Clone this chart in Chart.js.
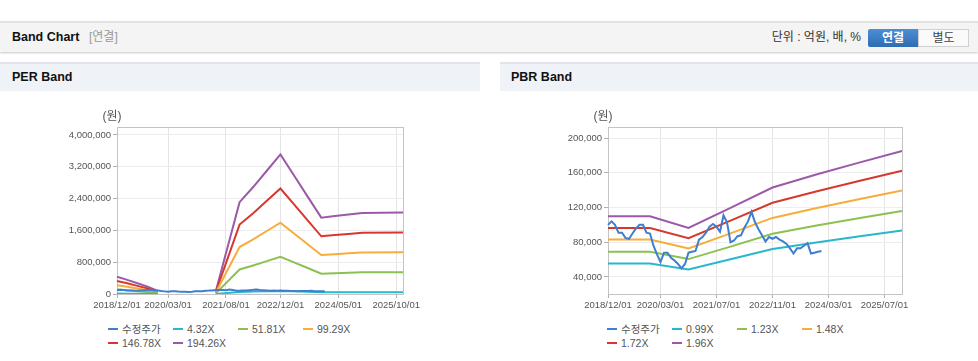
<!DOCTYPE html>
<html lang="ko">
<head>
<meta charset="utf-8">
<title>Band Chart</title>
<script src="https://cdn.jsdelivr.net/npm/chart.js@4.4.0/dist/chart.umd.min.js"></script>
<style>
  body { margin: 0; width: 978px; height: 361px; position: relative; overflow: hidden; background: #fff;
         font-family: 'Liberation Sans', Arial, 'Noto Sans CJK KR', sans-serif; color: #222; }
  .topbar { position: absolute; left: 0; top: 21px; width: 978px; height: 29px; background: #f4f4f4;
            border-top: 2px solid #e2e2e2; box-shadow: 0 1px 2px rgba(0,0,0,0.22); }
  .topbar .ttl { position: absolute; left: 12px; top: 0; line-height: 29px; font-size: 12.5px; font-weight: bold; color: #111; }
  .topbar .sub { position: absolute; left: 89px; top: 0; line-height: 29px; font-size: 12px; color: #999; }
  .topbar .unit { position: absolute; right: 117px; top: 0; line-height: 29px; font-size: 12px; color: #333; }
  .btn { position: absolute; top: 6px; height: 18px; line-height: 18px; width: 50px; text-align: center; font-size: 12px; }
  .btn.on { left: 868px; background: linear-gradient(#4c8fd5, #2e6cb3); color: #fff; font-weight: bold; border-radius: 2px 0 0 2px; }
  .btn.off { left: 918px; width: 49px; height: 16px; line-height: 16px; background: #fafafa; border: 1px solid #d0d0d0; color: #444; }
  .ph { position: absolute; top: 62px; height: 27px; background: #eff2f7; border-top: 2px solid #e1e5eb;
        line-height: 27px; font-size: 12.5px; font-weight: bold; color: #111; }
  canvas { position: absolute; top: 100px; }
  .legend { position: absolute; display: flex; flex-wrap: wrap; width: 260px; }
  .legend .it { width: 65px; height: 14px; line-height: 14px; font-size: 10.5px; color: #555; white-space: nowrap; }
  .legend .mk { display: inline-block; width: 10px; height: 2px; vertical-align: middle; margin-right: 4px; position: relative; top: -1px; }
</style>
</head>
<body>
<div class="topbar">
  <span class="ttl">Band Chart</span><span class="sub">[연결]</span>
  <span class="unit">단위 : 억원, 배, %</span>
  <span class="btn on">연결</span><span class="btn off">별도</span>
</div>
<div class="ph" style="left:0;width:468px;padding-left:12px;">PER Band</div>
<div class="ph" style="left:500px;width:467px;padding-left:11px;">PBR Band</div>

<canvas id="perChart" width="480" height="215" style="left:0"></canvas>
<canvas id="pbrChart" width="478" height="215" style="left:500px"></canvas>
<div class="legend" id="perLegend" style="left:108px;top:322px"></div>
<div class="legend" id="pbrLegend" style="left:607px;top:322px"></div>

<script>
// 월별 카테고리 (2018/12 ~ 2025/12)
const months = [
  '2018/12/01',
  '2019/01/01','2019/02/01','2019/03/01','2019/04/01','2019/05/01','2019/06/01','2019/07/01','2019/08/01','2019/09/01','2019/10/01','2019/11/01','2019/12/01',
  '2020/01/01','2020/02/01','2020/03/01','2020/04/01','2020/05/01','2020/06/01','2020/07/01','2020/08/01','2020/09/01','2020/10/01','2020/11/01','2020/12/01',
  '2021/01/01','2021/02/01','2021/03/01','2021/04/01','2021/05/01','2021/06/01','2021/07/01','2021/08/01','2021/09/01','2021/10/01','2021/11/01','2021/12/01',
  '2022/01/01','2022/02/01','2022/03/01','2022/04/01','2022/05/01','2022/06/01','2022/07/01','2022/08/01','2022/09/01','2022/10/01','2022/11/01','2022/12/01',
  '2023/01/01','2023/02/01','2023/03/01','2023/04/01','2023/05/01','2023/06/01','2023/07/01','2023/08/01','2023/09/01','2023/10/01','2023/11/01','2023/12/01',
  '2024/01/01','2024/02/01','2024/03/01','2024/04/01','2024/05/01','2024/06/01','2024/07/01','2024/08/01','2024/09/01','2024/10/01','2024/11/01','2024/12/01',
  '2025/01/01','2025/02/01','2025/03/01','2025/04/01','2025/05/01','2025/06/01','2025/07/01','2025/08/01','2025/09/01','2025/10/01','2025/11/01','2025/12/01'
];

const perXTicks = ['2018/12/01','2020/03/01','2021/08/01','2022/12/01','2024/05/01','2025/10/01'];
const pbrXTicks = ['2018/12/01','2020/03/01','2021/07/01','2022/11/01','2024/03/01','2025/07/01'];
const perYTicks = [0, 800000, 1600000, 2400000, 3200000, 4000000];
const pbrYTicks = [40000, 80000, 120000, 160000, 200000];

// 수정주가 (월별, 2018/12 ~ 2024/01)
const price = [
  100000, 104000, 100000, 91000, 91000, 85000, 84000, 90000, 96000, 100000, 100000, 91000, 90000,
  76000, 66000, 57000, 68000, 68000, 62000, 59000, 55000, 50000, 55000, 68000, 69000,
  70000, 83000, 86000, 91000, 98000, 101000, 98000, 92000, 111000, 103000, 80000, 82000,
  87000, 88000, 97000, 104000, 115000, 103000, 95000, 88000, 81000, 86000, 84000, 86000,
  83000, 81000, 78000, 73000, 67000, 73000, 73000, 76000, 79000, 67000, 68000, 69000, 70000
];

// PER 밴드
const perNames = ['수정주가', '4.32X', '51.81X', '99.29X', '146.78X', '194.26X'];
const perBandMonths = ['2018/12/01','2019/03/01','2019/06/01','2019/09/01','2019/12/01','2020/01/01','2021/05/01','2021/12/01',
  '2022/04/01','2022/08/01','2022/12/01','2023/04/01','2023/08/01','2023/12/01','2024/04/01','2024/08/01','2024/12/01','2025/12/01'];
const per1 = [9700, 7900, 6000, 4100, 1800, null, 1300, 51400, 59800, 68900, 78100, 66300, 54500, 42700, 43600, 44500, 45400, 45600];
const per2 = [116000, 94700, 72000, 49300, 21300, null, 16000, 616100, 717400, 826800, 936100, 794800, 653400, 512100, 522700, 533400, 544100, 546700];
const per3 = [222300, 181400, 138000, 94600, 40900, null, 30700, 1180600, 1374900, 1584400, 1794000, 1523100, 1252200, 981300, 1001800, 1022200, 1042600, 1047800];
const per4 = [328700, 268200, 204000, 139800, 60400, null, 45300, 1745400, 2032600, 2342400, 2652200, 2251700, 1851200, 1450800, 1481000, 1511200, 1541400, 1549000];
const per5 = [435000, 355000, 270000, 185000, 80000, null, 60000, 2310000, 2690000, 3100000, 3510000, 2980000, 2450000, 1920000, 1960000, 2000000, 2040000, 2050000];

// PBR 밴드
const pbrNames = ['수정주가', '0.99X', '1.23X', '1.48X', '1.72X', '1.96X'];
const pbrBandMonths = ['2018/12/01','2019/12/01','2020/11/01','2021/11/01','2022/11/01','2023/12/01','2024/12/01','2025/12/01'];
const pbr1 = [55600, 55600, 48700, 60400, 72200, 80100, 86900, 93400];
const pbr2 = [69000, 69000, 60600, 75000, 89700, 99500, 107900, 116100];
const pbr3 = [83100, 83100, 72900, 90200, 108000, 119700, 129900, 139700];
const pbr4 = [96500, 96500, 84700, 104900, 125500, 139100, 150900, 162400];
const pbr5 = [110000, 110000, 96500, 119500, 143000, 158500, 172000, 185000];

const colors = ['#3f7fcf', '#27b8cc', '#8cc152', '#f5ad3b', '#d7382e', '#9c59a8'];
const tickFont = { family: "'Liberation Sans Narrow', 'Liberation Sans', Arial, sans-serif", size: 9.5 };

const framePlugin = {
  id: 'frame',
  beforeDatasetsDraw(chart) {
    const { ctx, chartArea: a } = chart;
    ctx.save();
    ctx.strokeStyle = '#c4c4c4';
    ctx.lineWidth = 1;
    ctx.strokeRect(Math.round(a.left) + 0.5, Math.round(a.top) + 0.5, Math.round(a.right - a.left), Math.round(a.bottom - a.top));
    ctx.restore();
  },
  afterDraw(chart) {
    const { ctx, chartArea: a } = chart;
    ctx.save();
    ctx.fillStyle = '#555';
    ctx.font = "12px 'Liberation Sans', 'Noto Sans CJK KR', sans-serif";
    ctx.textAlign = 'center';
    ctx.textBaseline = 'middle';
    ctx.fillText('(원)', a.left - 5, a.top - 10);
    ctx.restore();
  }
};

function bandData(bandMonths, values) {
  return bandMonths.map((m, k) => ({ x: m, y: values[k] }));
}

function makeChart(id, names, bands, bandMonths, xTicks, yTicks, yMin, yMax, yWidth, padRight) {
  const datasets = [{ label: names[0], data: price, borderColor: colors[0] }];
  bands.forEach((b, k) => {
    datasets.push({ label: names[k + 1], data: bandData(bandMonths, b), borderColor: colors[k + 1] });
  });
  datasets.forEach(d => { d.borderWidth = 2; d.pointRadius = 0; d.tension = 0; d.fill = false; d.spanGaps = false; });

  return new Chart(document.getElementById(id), {
    type: 'line',
    data: { labels: months, datasets: datasets },
    options: {
      responsive: false,
      animation: false,
      layout: { padding: { left: 0, right: padRight, top: 27, bottom: 0 } },
      plugins: { legend: { display: false }, tooltip: { enabled: false } },
      scales: {
        x: {
          type: 'category',
          offset: false,
          grid: { color: '#e4e4e4', tickColor: '#b0b0b0', tickLength: 4 },
          border: { color: '#b8b8b8' },
          ticks: { autoSkip: false, maxRotation: 0, minRotation: 0, padding: 2, color: '#555', font: tickFont },
          afterBuildTicks: s => { s.ticks = xTicks.map(l => ({ value: months.indexOf(l) })); },
          afterFit: s => { s.height = 21; }
        },
        y: {
          min: yMin,
          max: yMax,
          grid: { color: '#ededed', tickColor: '#b0b0b0', tickLength: 4 },
          border: { color: '#b8b8b8' },
          ticks: { padding: 2, color: '#555', font: tickFont, callback: v => v.toLocaleString('en-US') },
          afterBuildTicks: s => { s.ticks = yTicks.map(v => ({ value: v })); },
          afterFit: s => { s.width = yWidth; }
        }
      }
    },
    plugins: [framePlugin]
  });
}

function makeLegend(id, names) {
  const box = document.getElementById(id);
  names.forEach((n, k) => {
    const it = document.createElement('div');
    it.className = 'it';
    it.innerHTML = '<span class="mk" style="background:' + colors[k] + '"></span>' + n;
    box.appendChild(it);
  });
}

makeChart('perChart', perNames, [per1, per2, per3, per4, per5], perBandMonths, perXTicks, perYTicks, 0, 4200000, 117, 77);
makeChart('pbrChart', pbrNames, [pbr1, pbr2, pbr3, pbr4, pbr5], pbrBandMonths, pbrXTicks, pbrYTicks, 20400, 212700, 108, 76);
makeLegend('perLegend', perNames);
makeLegend('pbrLegend', pbrNames);
</script>
</body>
</html>
